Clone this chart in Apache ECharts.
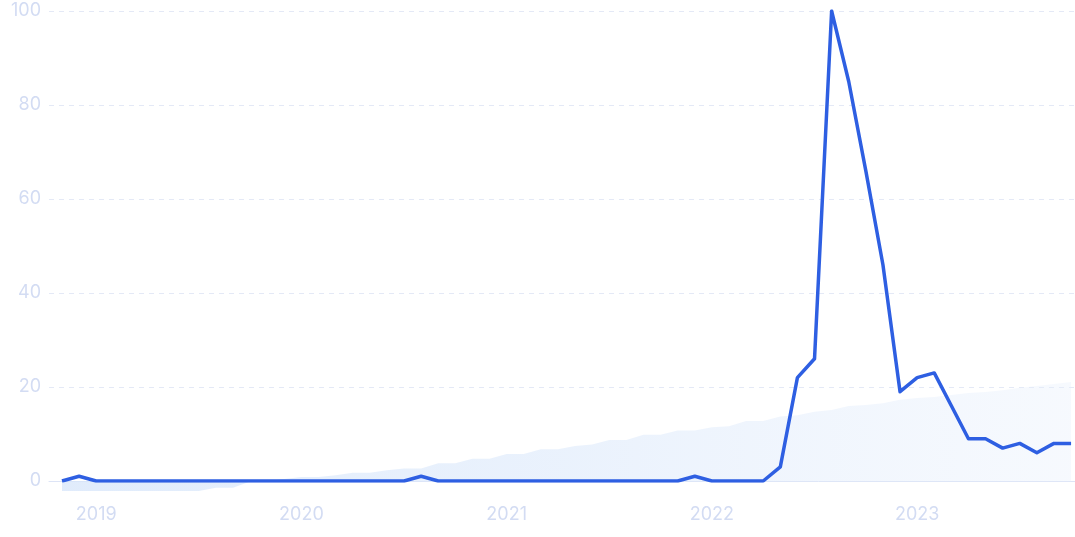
<!DOCTYPE html>
<html>
<head>
<meta charset="utf-8">
<script src="https://cdn.jsdelivr.net/npm/echarts@6/dist/echarts.min.js"></script>
<style>
html,body{margin:0;padding:0;background:#ffffff;}
#chart{width:1075px;height:537px;}
</style>
</head>
<body>
<div id="chart"></div>
<script>
// ---- data ----
const startYear = 2018, startMonth = 11, monthCount = 60; // 2018-11 .. 2023-10
const values = [0,1,0,0,0,0,0,0,0,0, 0,0,0,0,0,0,0,0,0,0, 0,1,0,0,0,0,0,0,0,0, 0,0,0,0,0,0,0,1,0,0, 0,0,3,22,26,100,85,66,46,19, 22,23,16,9,9,7,8,6,8,8];
// decorative background trend band (upper and lower edges)
const trendUpper = [2.1,2.1,2.1,2.1,2.1,2.1,2.1,2.1,2.1,2.1, 2.1,2.1,2.1,2.5,2.9,2.9,3.3,3.8,3.8,4.3, 4.7,4.7,5.8,5.8,6.7,6.7,7.7,7.7,8.7,8.7, 9.4,9.7,10.6,10.6,11.7,11.7,12.6,12.6,13.3,13.5, 14.6,14.6,15.5,15.8,16.5,16.9,17.7,17.9,18.3,19.0, 19.4,19.6,20.0,20.4,20.6,21.0,21.5,21.9,22.3,22.7];
const trendLower = [0,0,0,0,0,0,0,0,0,0.7, 0.7,2.0,2.0,2.0,2.0,2.0,2.0,2.0,2.0,2.0, 2.0,2.0,2.0,2.0,2.0,2.0,2.0,2.0,2.0,2.0, 2.0,2.0,2.0,2.0,2.0,2.0,2.0,2.0,2.0,2.0, 2.0,2.0,2.0,2.0,2.0,2.0,2.0,2.0,2.0,2.0, 2.0,2.0,2.0,2.0,2.0,2.0,2.0,2.0,2.0,2.0];
const yearLabels = ['2019','2020','2021','2022','2023'];
const yTicks = [0,20,40,60,80,100];
const xPadStart = 0.76, xPadEnd = 0.23; // months of empty space at each side

// ---- build ----
const months = [];
for (let i = 0; i < monthCount; i++) {
  const m0 = startMonth - 1 + i;
  const y = startYear + Math.floor(m0 / 12);
  const m = (m0 % 12) + 1;
  months.push(y + '-' + String(m).padStart(2, '0'));
}
const lineData = months.map((d, i) => [i, values[i]]);
const bandData = trendUpper.map((u, i) => +(u - trendLower[i]).toFixed(2));
const yearTickIdx = yearLabels.map(y => months.indexOf(y + '-01'));

const labelColor = '#d3dcf3';
const font = 'Inter, "Noto Sans", sans-serif';
const xMin = -xPadStart, xMax = monthCount - 1 + xPadEnd;

const chart = echarts.init(document.getElementById('chart'), null, {renderer: 'canvas'});
chart.setOption({
  animation: false,
  backgroundColor: '#ffffff',
  grid: [
    {left: 49, right: 0, top: 11, bottom: 56},
    {left: 62, right: 4, top: 11, bottom: 46}
  ],
  xAxis: [
    {
      type: 'value', gridIndex: 0, min: xMin, max: xMax,
      axisLine: {show: true, onZero: false, lineStyle: {color: '#dde4f6', width: 1}},
      axisTick: {show: false},
      splitLine: {show: false},
      axisLabel: {
        customValues: yearTickIdx,
        formatter: v => { const k = yearTickIdx.indexOf(Math.round(v)); return k >= 0 ? yearLabels[k] : ''; },
        color: labelColor, fontSize: 18, fontFamily: font, margin: 25
      }
    },
    {type: 'category', gridIndex: 1, data: months, boundaryGap: false, show: false}
  ],
  yAxis: [
    {
      type: 'value', gridIndex: 0, min: yTicks[0], max: yTicks[yTicks.length-1], interval: yTicks[1]-yTicks[0],
      axisLine: {show: false}, axisTick: {show: false},
      axisLabel: {color: labelColor, fontSize: 18, fontFamily: font, margin: 8},
      splitLine: {show: true, lineStyle: {color: '#e4e9f6', type: [5, 5], width: 1}}
    },
    {type: 'value', gridIndex: 1, min: 0, max: 100, show: false}
  ],
  series: [
    {
      type: 'line', xAxisIndex: 1, yAxisIndex: 1, stack: 'trend', data: trendLower,
      symbol: 'none', lineStyle: {width: 0, opacity: 0}, silent: true, z: 1
    },
    {
      type: 'line', xAxisIndex: 1, yAxisIndex: 1, stack: 'trend', data: bandData,
      symbol: 'none', lineStyle: {width: 0, opacity: 0}, silent: true, z: 1,
      areaStyle: {
        opacity: 1,
        color: new echarts.graphic.LinearGradient(0, 0, 1, 0, [
          {offset: 0, color: 'rgba(214,229,250,0.75)'},
          {offset: 0.5, color: 'rgba(220,233,251,0.6)'},
          {offset: 1, color: 'rgba(230,239,252,0.35)'}
        ])
      }
    },
    {
      type: 'line', xAxisIndex: 0, yAxisIndex: 0, data: lineData,
      symbol: 'none', z: 5,
      lineStyle: {color: '#2e5fe2', width: 3.5, join: 'round'}
    }
  ]
});
</script>
</body>
</html>
